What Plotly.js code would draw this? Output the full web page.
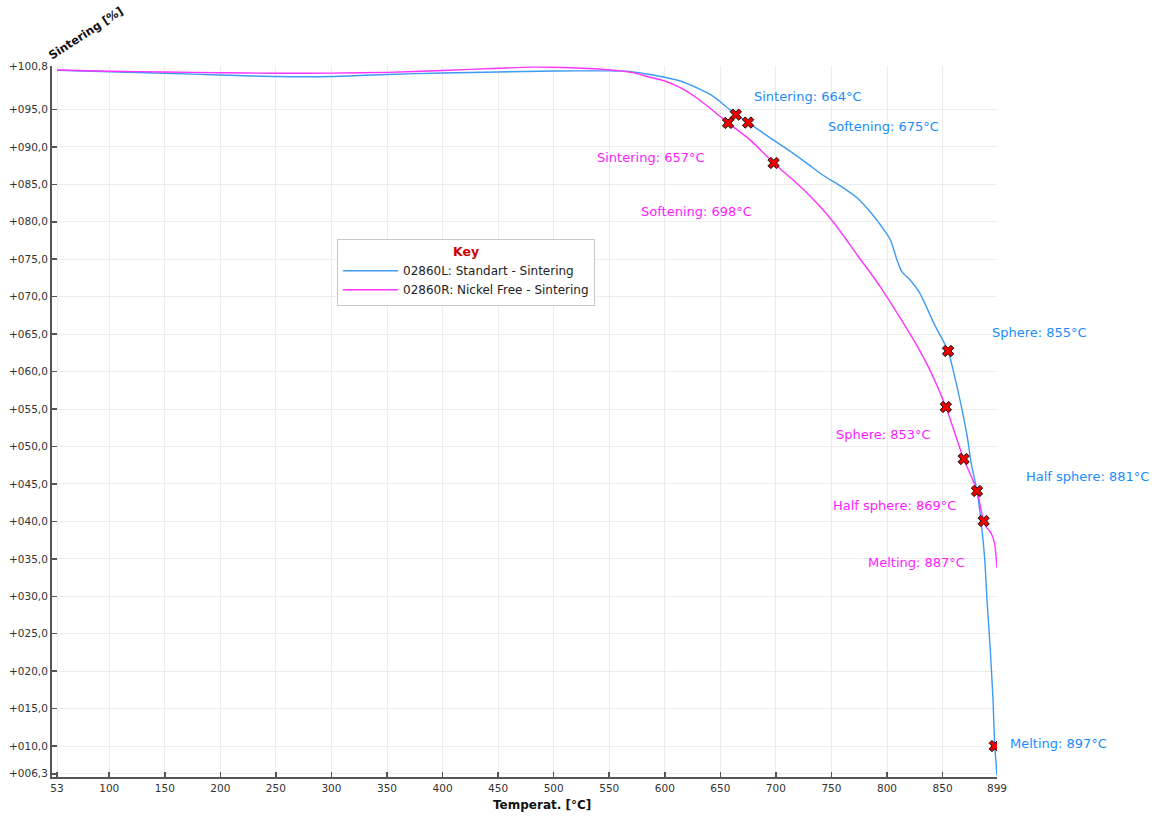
<!DOCTYPE html>
<html>
<head>
<meta charset="utf-8">
<script src="https://cdn.plot.ly/plotly-3.0.1.min.js"></script>
<style>html,body{margin:0;padding:0;background:#fff;}#chart{width:1155px;height:816px;}</style>
</head>
<body>
<div id="chart"></div>
<script>
// ---- Data ----
const seriesNames = ["02860L: Standart - Sintering", "02860R: Nickel Free - Sintering"];

const blueTemp = [53, 100, 150, 200, 250, 300, 350, 400, 450, 500, 550, 565, 575, 584, 600, 614, 630, 643, 655, 664, 675, 688, 704, 713, 728, 742, 758, 773, 785, 794, 803, 809, 813.5, 821, 829, 843, 855, 860, 866, 872, 876, 881, 885.5, 888, 890, 893, 895.4, 897, 899];
const blueVal  = [100.23, 100.04, 99.83, 99.6, 99.4, 99.4, 99.67, 99.87, 100.0, 100.13, 100.15, 100.1, 99.95, 99.73, 99.3, 98.8, 97.8, 96.8, 95.4, 94.3, 93.25, 91.9, 90.3, 89.4, 87.8, 86.25, 84.8, 83.2, 81.3, 79.6, 77.6, 74.9, 73.3, 72.2, 70.6, 66.2, 62.75, 59.9, 56.0, 51.5, 47.6, 44.06, 38.85, 34.85, 29.5, 22.8, 16.15, 10.0, 6.1];

const pinkTemp = [53, 100, 150, 200, 250, 300, 350, 400, 450, 480, 510, 540, 560, 575, 584, 600, 614, 630, 643, 657, 677, 698, 713, 728, 740, 752, 762, 773, 785, 794, 810, 828, 840, 853, 861, 869, 875, 881, 887, 890, 893, 896.5, 899];
const pinkVal  = [100.27, 100.1, 100.0, 99.9, 99.83, 99.85, 99.95, 100.2, 100.5, 100.65, 100.6, 100.4, 100.15, 99.8, 99.4, 98.8, 97.9, 96.4, 94.9, 93.2, 90.9, 87.85, 85.9, 83.85, 82.0, 79.9, 77.9, 75.6, 73.2, 71.3, 67.6, 63.2, 59.8, 55.27, 51.8, 48.33, 46.3, 44.06, 40.05, 39.1, 38.6, 37.3, 33.8];

const blueEventNames = ["Sintering", "Softening", "Sphere", "Half sphere", "Melting"];
const blueEventTemp  = [664, 675, 855, 881, 897];
const blueEventVal   = [94.3, 93.25, 62.75, 44.06, 10.0];

const pinkEventNames = ["Sintering", "Softening", "Sphere", "Half sphere", "Melting"];
const pinkEventTemp  = [657, 698, 853, 869, 887];
const pinkEventVal   = [93.2, 87.85, 55.27, 48.33, 40.05];

const xTickVals = [53, 100, 150, 200, 250, 300, 350, 400, 450, 500, 550, 600, 650, 700, 750, 800, 850, 899];
const xTickText = ["53", "100", "150", "200", "250", "300", "350", "400", "450", "500", "550", "600", "650", "700", "750", "800", "850", "899"];
const yTickVals = [6.3, 10, 15, 20, 25, 30, 35, 40, 45, 50, 55, 60, 65, 70, 75, 80, 85, 90, 95, 100.8];
const yTickText = ["+006,3", "+010,0", "+015,0", "+020,0", "+025,0", "+030,0", "+035,0", "+040,0", "+045,0", "+050,0", "+055,0", "+060,0", "+065,0", "+070,0", "+075,0", "+080,0", "+085,0", "+090,0", "+095,0", "+100,8"];

// ---- Styles ----
const FONT = "DejaVu Sans, Verdana, sans-serif";
const BLUE_LINE = "#3d9bf2";
const PINK_LINE = "#ff33ff";
const BLUE_TEXT = "#1a8cff";
const PINK_TEXT = "#ff1aff";

// label offsets (pixels) relative to each event marker
const blueOffsets = [[16, 18], [78, -4], [42, 18], [47, 14], [13, 3]];
const pinkOffsets = [[-21, -35], [-20, -49], [-13, -27], [-6, -47], [-17, -41]];

const traces = [
  {x: blueTemp, y: blueVal, type: "scatter", mode: "lines", name: seriesNames[0],
   line: {color: BLUE_LINE, width: 1.4, shape: "spline", smoothing: 0.7}, hoverinfo: "skip"},
  {x: pinkTemp, y: pinkVal, type: "scatter", mode: "lines", name: seriesNames[1],
   line: {color: PINK_LINE, width: 1.4, shape: "spline", smoothing: 0.7}, hoverinfo: "skip"},
  {x: blueEventTemp, y: blueEventVal, type: "scatter", mode: "markers", showlegend: false,
   marker: {symbol: "x", size: 10, color: "#ee0000", line: {color: "#111", width: 1}}, hoverinfo: "skip"},
  {x: pinkEventTemp, y: pinkEventVal, type: "scatter", mode: "markers", showlegend: false,
   marker: {symbol: "x", size: 10, color: "#ee0000", line: {color: "#111", width: 1}}, hoverinfo: "skip"}
];

const annotations = [];
blueEventNames.forEach((n, i) => {
  annotations.push({x: blueEventTemp[i], y: blueEventVal[i], xref: "x", yref: "y",
    text: n + ": " + blueEventTemp[i] + "°C", showarrow: false,
    xanchor: "left", yanchor: "middle", xshift: blueOffsets[i][0], yshift: blueOffsets[i][1],
    font: {family: FONT, size: 13, color: BLUE_TEXT}});
});
pinkEventNames.forEach((n, i) => {
  annotations.push({x: pinkEventTemp[i], y: pinkEventVal[i], xref: "x", yref: "y",
    text: n + ": " + pinkEventTemp[i] + "°C", showarrow: false,
    xanchor: "right", yanchor: "middle", xshift: pinkOffsets[i][0], yshift: pinkOffsets[i][1],
    font: {family: FONT, size: 13, color: PINK_TEXT}});
});
annotations.push({x: 0.036, y: 1.046, xref: "paper", yref: "paper", text: "<b>Sintering [%]</b>",
  showarrow: false, textangle: -33, xanchor: "center", yanchor: "middle",
  font: {family: FONT, size: 11.5, color: "#111"}});
annotations.push({x: 0.519, y: -0.039, xref: "paper", yref: "paper", text: "<b>Temperat. [°C]</b>",
  showarrow: false, xanchor: "center", yanchor: "middle",
  font: {family: FONT, size: 12, color: "#111"}});

const layout = {
  width: 1155, height: 816,
  margin: {l: 52, r: 158, t: 66, b: 39},
  paper_bgcolor: "#fff", plot_bgcolor: "#fff",
  font: {family: FONT, size: 10.5, color: "#333"},
  showlegend: true,
  xaxis: {range: [48.5, 899], tickmode: "array", tickvals: xTickVals, ticktext: xTickText,
    ticks: "inside", ticklen: 5, tickwidth: 1.5, tickcolor: "#555",
    showline: true, linecolor: "#555", linewidth: 2, mirror: false,
    showgrid: true, gridcolor: "#ececec", gridwidth: 1, zeroline: false,
    tickfont: {family: FONT, size: 10.5, color: "#333"}},
  yaxis: {range: [5.87, 100.8], tickmode: "array", tickvals: yTickVals, ticktext: yTickText,
    ticks: "inside", ticklen: 5, tickwidth: 1.5, tickcolor: "#555",
    showline: true, linecolor: "#555", linewidth: 2, mirror: false,
    showgrid: true, gridcolor: "#ececec", gridwidth: 1, zeroline: false,
    tickfont: {family: FONT, size: 10.5, color: "#333"}},
  legend: {x: 0.3016, y: 0.7567, xanchor: "left", yanchor: "top",
    bgcolor: "#fff", bordercolor: "#c8c8c8", borderwidth: 1,
    font: {family: FONT, size: 12, color: "#222"}, itemwidth: 55, tracegroupgap: 0,
    title: {text: "<b>Key</b>", side: "top center", font: {family: FONT, size: 12.5, color: "#cc0000"}}},
  annotations: annotations
};

Plotly.newPlot("chart", traces, layout, {staticPlot: true, displayModeBar: false});
</script>
</body>
</html>
